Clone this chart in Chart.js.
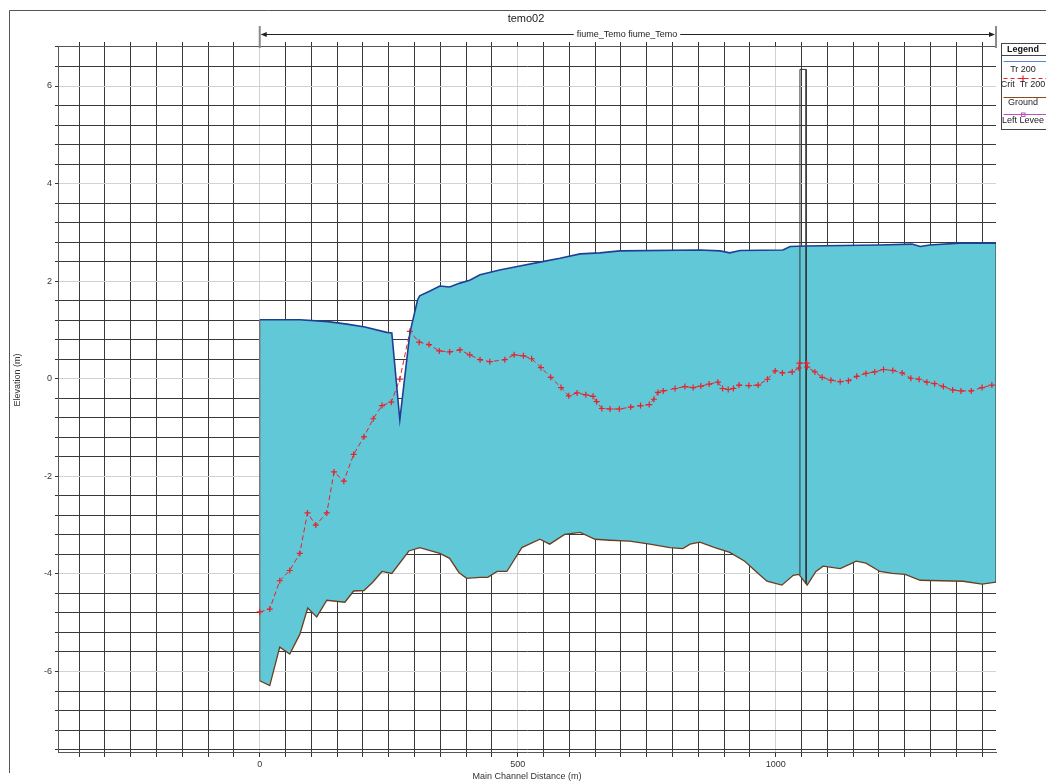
<!DOCTYPE html>
<html>
<head>
<meta charset="utf-8">
<script src="https://cdn.jsdelivr.net/npm/chart.js@4"></script>
<style>
  html, body { margin: 0; padding: 0; background: #fff; }
  #wrap { width: 1046px; height: 783px; }
</style>
</head>
<body>
<div id="wrap"><canvas id="c" width="1046" height="783"></canvas></div>
<script>
// Water surface profile, Tr 200
const wsDist = [0, 78, 132, 169, 204, 246, 256, 271.5, 291, 306, 310, 330, 349, 368, 388, 407, 427, 465, 504, 543, 582, 621, 659, 698, 853, 892, 911, 931, 1014, 1028, 1059, 1202, 1264, 1280, 1299, 1357, 1427];
const wsElev = [1.21, 1.21, 1.17, 1.12, 1.06, 0.95, 0.94, -0.84, 0.94, 1.62, 1.70, 1.80, 1.90, 1.88, 1.96, 2.02, 2.13, 2.23, 2.31, 2.39, 2.47, 2.56, 2.58, 2.62, 2.64, 2.62, 2.58, 2.63, 2.64, 2.71, 2.72, 2.74, 2.76, 2.71, 2.74, 2.78, 2.78];

// Channel bed (ground) profile
const groundDist = [0, 19.4, 38.8, 58.2, 77.6, 93, 110.5, 130, 165, 182, 202, 219, 237, 256, 289, 310, 349, 368, 386, 401, 427, 442, 460, 479, 508, 543, 562, 591, 621, 650, 679, 717, 756, 795, 820, 834, 853, 882, 911, 940, 964, 983, 1012, 1034, 1045, 1061, 1078, 1092, 1125, 1144, 1156, 1175, 1202, 1226, 1251, 1280, 1363, 1400, 1427];
const groundElev = [-6.19, -6.29, -5.50, -5.64, -5.24, -4.70, -4.88, -4.54, -4.58, -4.35, -4.34, -4.17, -3.95, -3.99, -3.53, -3.46, -3.58, -3.68, -3.97, -4.09, -4.07, -4.07, -3.95, -3.95, -3.46, -3.29, -3.39, -3.19, -3.15, -3.29, -3.31, -3.33, -3.39, -3.46, -3.48, -3.39, -3.35, -3.46, -3.56, -3.74, -3.97, -4.15, -4.23, -4.03, -4.01, -4.23, -3.95, -3.84, -3.89, -3.80, -3.74, -3.78, -3.95, -3.99, -4.01, -4.13, -4.15, -4.21, -4.17];

// Critical depth water surface, Tr 200
const critDist = [0, 19.4, 38.8, 58.2, 77.6, 92.5, 108.6, 130, 144, 163, 182, 202, 220, 237, 255, 271.5, 291, 309, 328, 348, 368, 388, 407, 427, 446, 475, 493, 511, 527, 545, 564, 584, 599, 615, 632, 646, 653, 663, 679, 697, 719, 738, 755, 764, 772, 782, 805, 824, 840, 855, 871, 888, 897, 908, 918, 929, 948, 966, 984, 999, 1013, 1032, 1045, 1046, 1060, 1061, 1076, 1090, 1107, 1125, 1141, 1157, 1175, 1192, 1209, 1227, 1245, 1262, 1278, 1293, 1308, 1325, 1343, 1359, 1379, 1400, 1419];
const critElev = [-4.78, -4.72, -4.14, -3.93, -3.58, -2.75, -3.00, -2.75, -1.91, -2.10, -1.55, -1.19, -0.82, -0.55, -0.48, -0.01, 0.97, 0.75, 0.70, 0.57, 0.55, 0.59, 0.49, 0.39, 0.35, 0.39, 0.49, 0.47, 0.41, 0.23, 0.03, -0.18, -0.35, -0.29, -0.33, -0.36, -0.47, -0.61, -0.62, -0.62, -0.58, -0.55, -0.53, -0.42, -0.28, -0.25, -0.20, -0.16, -0.18, -0.15, -0.11, -0.07, -0.20, -0.22, -0.20, -0.13, -0.14, -0.13, -0.01, 0.16, 0.12, 0.14, 0.22, 0.32, 0.32, 0.24, 0.14, 0.03, -0.03, -0.06, -0.04, 0.05, 0.11, 0.14, 0.19, 0.17, 0.12, 0.01, -0.01, -0.07, -0.10, -0.16, -0.23, -0.25, -0.25, -0.18, -0.13];

// Bridge outline (upstream / downstream faces and deck top)
const bridgeDist = [1047, 1047, 1059, 1059];
const bridgeElev = [-4.02, 6.34, 6.34, -4.20];

// Axis ranges and tick labels
const xRange = [-391, 1427];
const yRange = [-7.65, 6.82];
const xGridStep = 50;
const yGridStep = 0.4;
const xTickLabels = [0, 500, 1000];
const yTickLabels = [-6, -4, -2, 0, 2, 4, 6];

const FONT = '"Liberation Sans", Arial, sans-serif';
const WS_COLOR = '#1f3f94';
const CRIT_COLOR = '#e8212b';
const GROUND_COLOR = '#6b3f1d';
const LEVEE_COLOR = '#c050c0';
const WATER_FILL = '#61c8d8';

function pts(xs, ys) { return xs.map((x, i) => ({ x: x, y: ys[i] })); }

function gridValues(lo, hi, step) {
  const out = [];
  for (let v = lo; v <= hi + 1e-9; v += step) out.push(Math.round(v * 100) / 100);
  return out;
}
const xGrid = gridValues(-350, 1400, xGridStep);
const yGrid = gridValues(-7.6, 6.8, yGridStep);

function isLabel(list, v) { return list.some(t => Math.abs(t - v) < 1e-6); }

const lastWs = wsDist.length - 1;
const lastGround = groundDist.length - 1;

const datasets = [
  { label: 'Tr 200', data: pts(wsDist, wsElev), borderColor: WS_COLOR, borderWidth: 1.6,
    pointRadius: 0, fill: { target: 1 }, backgroundColor: WATER_FILL, tension: 0 },
  { label: 'Ground', data: pts(groundDist, groundElev), borderColor: GROUND_COLOR, borderWidth: 1.3,
    pointRadius: 0, fill: false, tension: 0 },
  { label: 'Crit Tr 200', data: pts(critDist, critElev), borderColor: CRIT_COLOR, borderWidth: 1,
    borderDash: [5, 3], pointStyle: 'cross', pointRadius: 3, pointBorderWidth: 1.2,
    pointBorderColor: CRIT_COLOR, fill: false, tension: 0 },
  { label: 'Bridge', data: pts(bridgeDist, bridgeElev), borderColor: '#333', borderWidth: 1,
    pointRadius: 0, fill: false, tension: 0 },
  { label: 'Start', data: [{ x: wsDist[0], y: groundElev[0] }, { x: wsDist[0], y: wsElev[0] }],
    borderColor: '#7a7a7a', borderWidth: 1.5, pointRadius: 0, fill: false },
  { label: 'End', data: [{ x: wsDist[lastWs], y: groundElev[lastGround] }, { x: wsDist[lastWs], y: wsElev[lastWs] }],
    borderColor: '#333', borderWidth: 1, pointRadius: 0, fill: false },
  { label: 'Left Levee', data: [], borderColor: LEVEE_COLOR, borderWidth: 1, pointStyle: 'rect',
    pointRadius: 2, pointBorderColor: LEVEE_COLOR, fill: false }
];

// Legend entries drawn in the box on the right
const legendEntries = [
  { label: 'Tr 200', color: '#5f86cc', dash: [], marker: null },
  { label: 'Crit  Tr 200', color: CRIT_COLOR, dash: [4, 3], marker: 'cross' },
  { label: 'Ground', color: '#8a4a1e', dash: [], marker: null },
  { label: 'Left Levee', color: LEVEE_COLOR, dash: [], marker: 'rect' }
];

const decorations = {
  id: 'decorations',
  afterDraw(chart) {
    const ctx = chart.ctx;
    const xs = chart.scales.x;
    const x0 = xs.getPixelForValue(0);
    const x1 = xs.getPixelForValue(xRange[1]);
    ctx.save();

    // window frame
    ctx.strokeStyle = '#555';
    ctx.lineWidth = 1;
    ctx.beginPath();
    ctx.moveTo(9.5, 773); ctx.lineTo(9.5, 10.5); ctx.lineTo(1046, 10.5);
    ctx.stroke();

    // title
    ctx.fillStyle = '#222';
    ctx.font = '11px ' + FONT;
    ctx.textAlign = 'center';
    ctx.textBaseline = 'middle';
    ctx.fillText('temo02', 526, 19);

    // reach header with arrows
    const hy = 34.5;
    ctx.font = '9px ' + FONT;
    const reach = 'fiume_Temo fiume_Temo';
    const tw = ctx.measureText(reach).width;
    const tc = 627;
    ctx.strokeStyle = '#222';
    ctx.beginPath();
    ctx.moveTo(x0 + 2, hy); ctx.lineTo(tc - tw / 2 - 3, hy);
    ctx.moveTo(tc + tw / 2 + 3, hy); ctx.lineTo(x1 - 2, hy);
    ctx.stroke();
    ctx.fillStyle = '#222';
    ctx.beginPath();
    ctx.moveTo(x0 + 1, hy); ctx.lineTo(x0 + 7, hy - 2.5); ctx.lineTo(x0 + 7, hy + 2.5); ctx.closePath();
    ctx.moveTo(x1 - 1, hy); ctx.lineTo(x1 - 7, hy - 2.5); ctx.lineTo(x1 - 7, hy + 2.5); ctx.closePath();
    ctx.fill();
    ctx.fillText(reach, tc, hy);
    ctx.strokeStyle = '#8a8a8a';
    ctx.lineWidth = 2;
    ctx.beginPath();
    ctx.moveTo(x0, 26); ctx.lineTo(x0, 48);
    ctx.moveTo(x1, 26); ctx.lineTo(x1, 48);
    ctx.stroke();

    // axis titles
    ctx.fillStyle = '#333';
    ctx.font = '9px ' + FONT;
    ctx.fillText('Main Channel Distance (m)', 527, 777);
    ctx.save();
    ctx.translate(18, 380);
    ctx.rotate(-Math.PI / 2);
    ctx.fillText('Elevation (m)', 0, 0);
    ctx.restore();

    // legend box
    const lx = 1001.5, ly = 43.5, lw = 60, lh = 86;
    const cx = 1023;
    ctx.fillStyle = '#fff';
    ctx.fillRect(lx, ly, lw, lh);
    ctx.strokeStyle = '#444';
    ctx.lineWidth = 1;
    ctx.strokeRect(lx, ly, lw, lh);
    ctx.beginPath();
    ctx.moveTo(lx, 55.5); ctx.lineTo(lx + lw, 55.5);
    ctx.stroke();
    ctx.fillStyle = '#111';
    ctx.font = 'bold 9px ' + FONT;
    ctx.fillText('Legend', cx, 49.5);
    const sampleY = [61, 78, 97, 114];
    const textY = [70, 84.5, 103, 120.5];
    legendEntries.forEach((e, i) => {
      ctx.strokeStyle = e.color;
      ctx.lineWidth = 1;
      ctx.setLineDash(e.dash);
      ctx.beginPath();
      ctx.moveTo(lx + 2, sampleY[i] + 0.5); ctx.lineTo(lx + lw, sampleY[i] + 0.5);
      ctx.stroke();
      ctx.setLineDash([]);
      if (e.marker === 'cross') {
        ctx.lineWidth = 1.2;
        ctx.beginPath();
        ctx.moveTo(cx - 3, sampleY[i] + 0.5); ctx.lineTo(cx + 3, sampleY[i] + 0.5);
        ctx.moveTo(cx, sampleY[i] - 2.5); ctx.lineTo(cx, sampleY[i] + 3.5);
        ctx.stroke();
      } else if (e.marker === 'rect') {
        ctx.strokeRect(cx - 1.5, sampleY[i] - 1, 3.5, 3.5);
      }
      ctx.fillStyle = '#222';
      ctx.font = '9px ' + FONT;
      ctx.fillText(e.label, cx, textY[i]);
    });
    ctx.restore();
  }
};

function gridColor(list, step) {
  return ctx => {
    const v = ctx.tick ? ctx.tick.value : 0;
    return isLabel(list, v) ? '#d2d2d2' : '#3a3a3a';
  };
}

new Chart(document.getElementById('c'), {
  type: 'line',
  data: { datasets: datasets },
  options: {
    responsive: false,
    animation: false,
    devicePixelRatio: 1,
    layout: { padding: { left: 0, right: 50, top: 0, bottom: 0 } },
    plugins: {
      legend: { display: false },
      tooltip: { enabled: false },
      filler: { drawTime: 'beforeDatasetsDraw', propagate: false }
    },
    elements: { line: { tension: 0 } },
    scales: {
      x: {
        type: 'linear', position: 'bottom', min: xRange[0], max: xRange[1],
        afterBuildTicks: s => { s.ticks = xGrid.map(v => ({ value: v })); },
        afterFit: s => { s.height = 31; },
        ticks: {
          autoSkip: false, maxRotation: 0, padding: 2, color: '#333',
          font: { family: FONT, size: 9 },
          callback: v => isLabel(xTickLabels, v) ? String(v) : ''
        },
        grid: { color: gridColor(xTickLabels), lineWidth: 1, tickLength: 5, tickColor: '#333' },
        border: { color: '#555', width: 1 }
      },
      xTop: {
        type: 'linear', position: 'top', min: xRange[0], max: xRange[1],
        afterBuildTicks: s => { s.ticks = xGrid.map(v => ({ value: v })); },
        afterFit: s => { s.height = 46; },
        ticks: { autoSkip: false, maxRotation: 0, padding: 0, font: { size: 1 }, callback: () => '' },
        grid: { drawOnChartArea: false, tickLength: 4, tickColor: '#333', color: '#333' },
        border: { color: '#555', width: 1 }
      },
      y: {
        type: 'linear', position: 'left', min: yRange[0], max: yRange[1],
        afterBuildTicks: s => { s.ticks = yGrid.map(v => ({ value: v })); },
        afterFit: s => { s.width = 58; },
        ticks: {
          autoSkip: false, padding: 3, color: '#333',
          font: { family: FONT, size: 9 },
          callback: v => isLabel(yTickLabels, v) ? String(v) : ''
        },
        grid: { color: gridColor(yTickLabels), lineWidth: 1, tickLength: 3, tickColor: '#333' },
        border: { color: '#555', width: 1 }
      }
    }
  },
  plugins: [decorations]
});
</script>
</body>
</html>
